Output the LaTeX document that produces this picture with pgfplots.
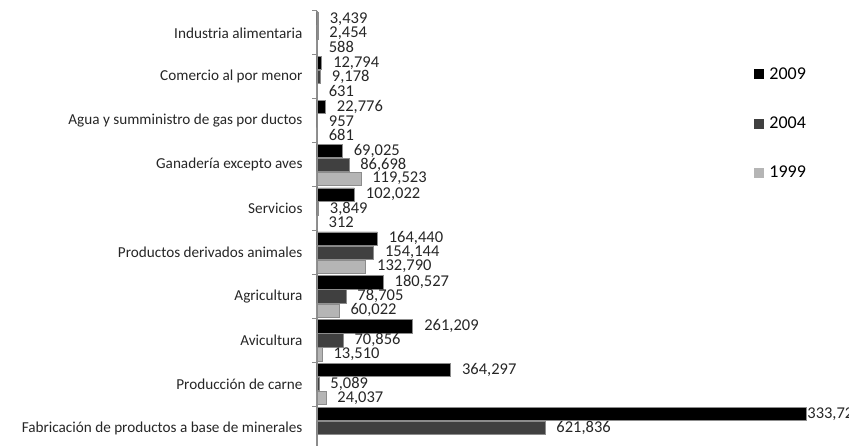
\documentclass[border=0pt]{standalone}
\usepackage{pgfplots}
\pgfplotsset{compat=1.18}
\usepackage{pgfplotstable}
\usepackage{fontspec}
\setmainfont{Carlito}
\definecolor{cA}{HTML}{000000}
\definecolor{cB}{HTML}{404040}
\definecolor{cC}{HTML}{B5B5B5}
\definecolor{edge}{HTML}{8C8C8C}

% 2009
\pgfplotstableread{
y v lab
-0.32 3439 3,439
0.68 12794 12,794
1.68 22776 22,776
2.68 69025 69,025
3.68 102022 102,022
4.68 164440 164,440
5.68 180527 180,527
6.68 261209 261,209
7.68 364297 364,297
}\tA
% 2004
\pgfplotstableread{
y v lab
0 2454 2,454
1 9178 9,178
2 957 957
3 86698 86,698
4 3849 3,849
5 154144 154,144
6 78705 78,705
7 70856 70,856
8 5089 5,089
9 621836 621,836
}\tB
% 1999
\pgfplotstableread{
y v lab
0.32 588 588
1.32 631 631
2.32 681 681
3.32 119523 119,523
4.32 312 312
5.32 132790 132,790
6.32 60022 60,022
7.32 13510 13,510
8.32 24037 24,037
}\tC

\begin{document}
\begin{tikzpicture}
\path[use as bounding box] (-317pt,0pt) rectangle (532pt,446pt);
\clip (-317pt,0pt) rectangle (532pt,446pt);
\begin{axis}[
  at={(0pt,0pt)}, anchor=south west,
  width=532pt, height=435pt, scale only axis,
  xbar, bar shift=0pt, bar width=0.30,
  xmin=0, xmax=1451569,
  ymin=-0.5, ymax=9.41, y dir=reverse,
  axis x line=none, axis y line=left,
  y axis line style={-, draw=edge, line width=1.2pt},
  ytick={0,...,9},
  yticklabels={Industria alimentaria, Comercio al por menor, Agua y sumministro de gas por ductos, Ganadería excepto aves, Servicios, Productos derivados animales, Agricultura, Avicultura, Producción de carne, Fabricación de productos a base de minerales},
  minor ytick={-0.5,0.5,1.5,2.5,3.5,4.5,5.5,6.5,7.5,8.5},
  major tick length=0pt, minor tick length=4.5pt, tick align=outside,
  minor tick style={draw=edge, line width=1pt},
  yticklabel style={font=\fontsize{15.2}{17}\selectfont, text=black!85, xshift=-11pt},
  clip=false,
  nodes near coords, point meta=explicit symbolic,
  every node near coord/.append style={font=\fontsize{16.5}{18}\selectfont, text=black!85, anchor=west, xshift=8pt, inner ysep=0pt},
  legend style={at={(rel axis cs:0.821,0.875)}, anchor=north west, draw=none, fill=none,
    font=\fontsize{18}{20}\selectfont, row sep=32pt, inner sep=0pt},
  legend cell align=left,
]
\addplot[fill=cA, draw=edge, line width=0.5pt,
  legend image code/.code={\fill[cA] (0pt,-4.5pt) rectangle (9pt,4.5pt); \path (13pt,0pt);}]
  table[x=v, y=y, meta=lab]{\tA};
\addplot[fill=cB, draw=edge, line width=0.5pt,
  legend image code/.code={\fill[cB] (0pt,-4.5pt) rectangle (9pt,4.5pt); \path (13pt,0pt);}]
  table[x=v, y=y, meta=lab]{\tB};
\addplot[fill=cC, draw=edge, line width=0.5pt,
  legend image code/.code={\fill[cC] (0pt,-4.5pt) rectangle (9pt,4.5pt); \path (13pt,0pt);}]
  table[x=v, y=y, meta=lab]{\tC};
\addplot[forget plot, fill=cA, draw=edge, line width=0.5pt,
  every node near coord/.append style={xshift=-10pt}]
  coordinates {(1333720,8.68) [333,72]};
\legend{2009,2004,1999}
\end{axis}
\end{tikzpicture}
\end{document}
